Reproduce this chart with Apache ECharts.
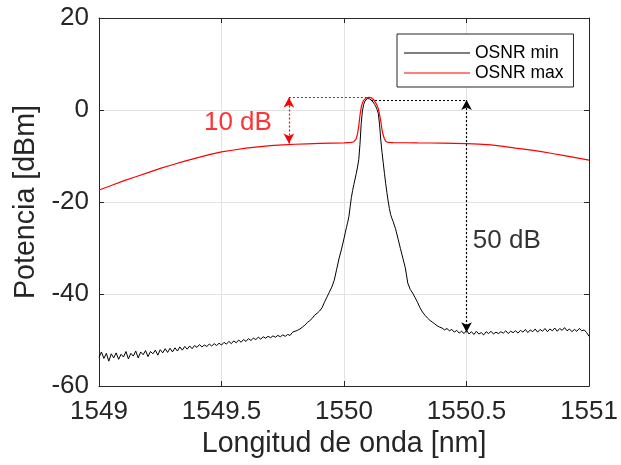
<!DOCTYPE html>
<html>
<head>
<meta charset="utf-8">
<script src="https://cdn.jsdelivr.net/npm/echarts@6/dist/echarts.min.js"></script>
<style>html,body{margin:0;padding:0;background:#fff}#c{width:621px;height:465px}</style>
</head>
<body>
<div id="c"></div>
<script>
// ---------- data ----------
const seriesNames = ['OSNR min', 'OSNR max'];
const xTicks = [1549, 1549.5, 1550, 1550.5, 1551];
const yTicks = [-60, -40, -20, 0, 20];

// OSNR min (black) : left wing, sampled every 0.01 nm from 1549.00
const blackLeftStart = 1549.00, blackStep = 0.01;
const blackLeft = [
 -53.8,-52.6,-54.0,-52.9,-54.6,-53.0,-53.9,-52.8,-54.2,-53.1,
 -53.7,-52.5,-54.1,-52.9,-53.5,-52.4,-53.9,-52.6,-53.2,-52.3,
 -53.6,-52.5,-53.0,-52.2,-53.3,-52.1,-52.8,-51.9,-52.7,-51.8,
 -52.6,-51.7,-52.4,-51.5,-52.2,-51.4,-52.0,-51.3,-51.9,-51.2,
 -51.6,-51.0,-51.5,-51.1,-51.4,-50.9,-51.3,-50.8,-51.2,-50.7,
 -51.1,-50.5,-50.9,-50.3,-50.8,-50.2,-50.6,-50.0,-50.5,-49.9,
 -50.3,-49.7,-50.1,-49.6,-49.9,-49.4,-49.8,-49.3,-49.6,-49.2,
 -49.5,-49.1,-49.4,-49.0,-49.3,-48.9,-49.2,-48.8,-49.0,-48.3,
 -48.1,-47.9,-47.6,-47.2,-46.8,-46.2,-45.8,-45.3,-44.6,-44.2,
 -43.7,-43.0,-41.8,-40.7,-39.6,-38.5,-37.0,-34.6,-32.2,-30.2
];
// OSNR min (black) : peak region
const peakX = [1550.000,1550.005,1550.010,1550.015,1550.020,1550.025,1550.030,1550.035,1550.040,1550.045,
 1550.050,1550.055,1550.060,1550.065,1550.070,1550.075,1550.080,1550.085,1550.090,1550.095,
 1550.100,1550.105,1550.110,1550.115,1550.120,1550.125,1550.130,1550.135,1550.140,1550.145,
 1550.150,1550.155,1550.160,1550.165,1550.170,1550.175,1550.180,1550.185,1550.190,1550.195,1550.200];
const peakY = [-27.9,-26.7,-25.5,-24.4,-23.1,-21.0,-19.0,-17.5,-16.2,-15.0,
 -13.8,-12.4,-10.8,-7.5,-3.0,-0.2,1.2,1.9,2.3,2.5,
 2.5,2.4,2.2,2.0,1.6,1.2,0.7,0.1,-0.8,-3.2,
 -6.5,-9.2,-11.5,-13.8,-16.0,-18.0,-19.8,-21.4,-22.7,-23.5,-24.2];
// OSNR min (black) : right wing, every 0.01 nm from 1550.21
const blackRightStart = 1550.21;
const blackRight = [
 -25.8,-27.9,-30.1,-32.2,-34.3,-37.6,-39.0,-39.8,-40.8,
 -41.8,-43.0,-43.9,-44.6,-45.2,-45.7,-46.1,-46.5,-46.9,-47.2,
 -47.4,-47.8,-47.5,-48.0,-47.7,-48.3,-47.9,-48.5,-48.1,-48.6,
 -47.9,-48.7,-48.2,-48.8,-48.1,-48.7,-48.4,-48.9,-48.2,-48.6,
 -48.1,-48.7,-48.3,-48.6,-48.2,-48.5,-48.0,-48.6,-48.1,-48.4,
 -48.0,-48.5,-47.9,-48.3,-47.7,-48.4,-47.8,-48.2,-47.6,-48.3,
 -47.7,-48.1,-47.5,-48.2,-47.6,-48.0,-47.4,-48.1,-47.5,-47.9,
 -47.3,-48.0,-47.6,-48.2,-47.7,-48.1,-47.5,-48.0,-47.8,-48.4,
 -49.2
];
// OSNR max (red)
const redX = [1549.00,1549.05,1549.10,1549.15,1549.20,1549.25,1549.30,1549.35,1549.40,1549.45,
 1549.50,1549.55,1549.60,1549.65,1549.70,1549.75,1549.80,1549.85,1549.90,1549.95,
 1550.00,1550.03,1550.04,1550.05,1550.055,1550.06,1550.065,1550.07,1550.075,1550.08,
 1550.09,1550.10,1550.11,1550.12,1550.13,1550.14,1550.145,1550.15,1550.155,1550.16,
 1550.165,1550.17,1550.18,1550.20,1550.25,1550.30,1550.35,1550.40,1550.45,1550.50,
 1550.55,1550.60,1550.65,1550.70,1550.75,1550.80,1550.85,1550.90,1550.95,1551.00];
const redY = [-17.4,-16.4,-15.4,-14.5,-13.6,-12.7,-11.9,-11.1,-10.4,-9.7,
 -9.1,-8.7,-8.3,-8.0,-7.75,-7.6,-7.45,-7.35,-7.25,-7.2,
 -7.15,-7.05,-6.9,-6.2,-5.2,-3.5,-1.2,0.6,1.5,2.1,
 2.6,2.75,2.7,2.3,1.5,0.3,-1.0,-2.5,-4.3,-5.5,
 -6.3,-6.8,-7.05,-7.1,-7.12,-7.15,-7.17,-7.2,-7.25,-7.3,
 -7.42,-7.6,-7.9,-8.3,-8.6,-9.0,-9.45,-9.9,-10.4,-10.9];

// annotations (data coordinates)
const redRefX = 1549.775, redTopY = 2.7, redBotY = -7.3, redPeakX = 1550.10;
const blackRefX = 1550.5, blackTopY = 2.2, blackBotY = -48.3, blackPeakX = 1550.11;
const labelTexts = ['10 dB', '50 dB'];
const labelPos = [[1549.567, -2.8], [1550.664, -28.5]];

// ---------- build ----------
const blackData = [];
blackLeft.forEach((v, i) => blackData.push([+(blackLeftStart + i * blackStep).toFixed(3), v]));
peakX.forEach((x, i) => blackData.push([x, peakY[i]]));
blackRight.forEach((v, i) => blackData.push([+(blackRightStart + i * blackStep).toFixed(3), v]));
const redData = redX.map((x, i) => [x, redY[i]]);

const FONT = '"Liberation Sans", Arial, Helvetica, sans-serif';
const TXT = '#262626';
const fmt = v => String(v);

const dot = (color) => ({ color: color, width: 1.2, type: [2, 2] });
const arrowLine = (x1, y1, x2, y2, color, s1, s2) => [
  { coord: [x1, y1], symbol: s1, lineStyle: dot(color) },
  { coord: [x2, y2], symbol: s2, lineStyle: dot(color) }
];

const chart = echarts.init(document.getElementById('c'), null, { renderer: 'canvas' });
chart.setOption({
  animation: false,
  backgroundColor: '#fff',
  textStyle: { fontFamily: FONT },
  grid: { left: 99, right: 29, top: 18, bottom: 79, containLabel: false },
  legend: {
    data: seriesNames,
    orient: 'vertical',
    left: 397, top: 34,
    icon: 'rect',
    itemWidth: 66, itemHeight: 1.2, itemGap: 2, itemTextGap: 7,
    padding: [10, 10, 5, 7],
    backgroundColor: '#fff',
    borderColor: '#262626', borderWidth: 1, borderRadius: 0,
    textStyle: { fontFamily: FONT, fontSize: 17.5, color: '#000' }
  },
  xAxis: [{
    type: 'value', min: 1549, max: 1551, interval: 0.5,
    name: 'Longitud de onda [nm]', nameLocation: 'middle', nameGap: 44,
    nameTextStyle: { fontFamily: FONT, fontSize: 28.6, color: TXT },
    axisLine: { show: true, onZero: false, lineStyle: { color: TXT, width: 1 } },
    axisTick: { show: true, inside: true, length: 5, lineStyle: { color: TXT } },
    axisLabel: { formatter: fmt, fontFamily: FONT, fontSize: 26, color: TXT, margin: 13, showMaxLabel: true, showMinLabel: true },
    splitLine: { show: true, lineStyle: { color: '#e3e3e3', width: 1 } }
  }, {
    type: 'value', min: 1549, max: 1551, interval: 0.5, position: 'top',
    axisLine: { show: true, onZero: false, lineStyle: { color: TXT, width: 1 } },
    axisTick: { show: true, inside: true, length: 5, lineStyle: { color: TXT } },
    axisLabel: { show: false }, splitLine: { show: false }
  }],
  yAxis: [{
    type: 'value', min: -60, max: 20, interval: 20,
    name: 'Potencia [dBm]', nameLocation: 'middle', nameGap: 56,
    nameTextStyle: { fontFamily: FONT, fontSize: 28.6, color: TXT },
    axisLine: { show: true, onZero: false, lineStyle: { color: TXT, width: 1 } },
    axisTick: { show: true, inside: true, length: 5, lineStyle: { color: TXT } },
    axisLabel: { formatter: fmt, fontFamily: FONT, fontSize: 26, color: TXT, margin: 10 },
    splitLine: { show: true, lineStyle: { color: '#e3e3e3', width: 1 } }
  }, {
    type: 'value', min: -60, max: 20, interval: 20, position: 'right',
    axisLine: { show: true, onZero: false, lineStyle: { color: TXT, width: 1 } },
    axisTick: { show: true, inside: true, length: 5, lineStyle: { color: TXT } },
    axisLabel: { show: false }, splitLine: { show: false }
  }],
  series: [
    {
      name: seriesNames[0], type: 'line', data: blackData,
      symbol: 'none', showSymbol: false, silent: true, z: 3,
      lineStyle: { color: '#000', width: 1 }, itemStyle: { color: '#000' }
    },
    {
      name: seriesNames[1], type: 'line', data: redData,
      symbol: 'none', showSymbol: false, silent: true, z: 4,
      lineStyle: { color: '#ff0000', width: 1.2 }, itemStyle: { color: '#ff0000' }
    },
    {
      name: 'annot', type: 'line', data: [], silent: true, z: 5,
      markLine: {
        silent: true, animation: false, symbolSize: [8, 10],
        label: { show: false }, emphasis: { disabled: true },
        data: [
          arrowLine(redRefX, redTopY, redPeakX, redTopY, '#ff0000', 'none', 'none'),
          arrowLine(redRefX, redTopY, redRefX, redBotY, '#ff0000', 'arrow', 'arrow'),
          arrowLine(blackPeakX, blackTopY, blackRefX, blackTopY, '#000', 'none', 'none'),
          arrowLine(blackRefX, blackTopY, blackRefX, blackBotY, '#000', 'arrow', 'arrow')
        ]
      }
    },
    {
      name: 'labels', type: 'scatter', silent: true, z: 6,
      symbolSize: 1, itemStyle: { color: 'transparent' },
      data: labelPos.map((p, i) => ({ value: p, label: { color: i === 0 ? '#ff0000' : '#000' } })),
      label: {
        show: true, position: 'inside', fontFamily: FONT, fontSize: 26,
        formatter: p => labelTexts[p.dataIndex]
      }
    }
  ]
});
</script>
</body>
</html>
